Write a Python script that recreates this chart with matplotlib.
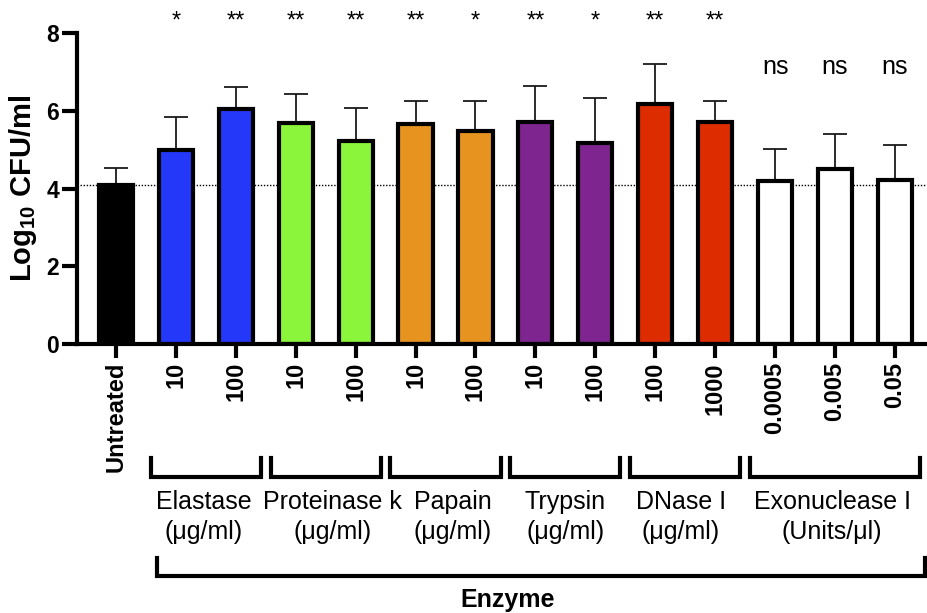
import numpy as np
import matplotlib
matplotlib.use('Agg')
import matplotlib.pyplot as plt

plt.rcParams['font.family'] = ['Liberation Sans', 'DejaVu Sans']
plt.rcParams['mathtext.fontset'] = 'custom'
plt.rcParams['mathtext.rm'] = 'Liberation Sans'
plt.rcParams['mathtext.bf'] = 'Liberation Sans:bold'

# data
tick_labels = ['Untreated', '10', '100', '10', '100', '10', '100', '10', '100',
               '100', '1000', '0.0005', '0.005', '0.05']
means = [4.08, 5.00, 6.05, 5.69, 5.21, 5.65, 5.48, 5.72, 5.17, 6.17, 5.71, 4.19, 4.51, 4.22]
upper = [4.52, 5.85, 6.61, 6.43, 6.07, 6.25, 6.24, 6.65, 6.32, 7.21, 6.25, 5.02, 5.41, 5.12]
colors = ['#000000', '#2438fa', '#2438fa', '#8af53a', '#8af53a', '#e69320', '#e69320',
          '#7f258f', '#7f258f', '#dd2c00', '#dd2c00', '#ffffff', '#ffffff', '#ffffff']
signif = ['', '*', '**', '**', '**', '**', '*', '**', '*', '**', '**', 'ns', 'ns', 'ns']

groups = ['Elastase\n(\u03bcg/ml)', 'Proteinase k\n(\u03bcg/ml)', 'Papain\n(\u03bcg/ml)',
          'Trypsin\n(\u03bcg/ml)', 'DNase I\n(\u03bcg/ml)', 'Exonuclease I\n(Units/\u03bcl)']
group_first = [1, 3, 5, 7, 9, 11]
group_last = [2, 4, 6, 8, 10, 13]
label_shift = [-0.03, 0.12, 0.12, 0.0, -0.07, -0.05]

x = np.arange(len(means))
err = np.array(upper) - np.array(means)

fig = plt.figure(figsize=(9.27, 6.13), dpi=100)
ax = fig.add_axes([0.0831, 0.4388, 0.9159, 0.5073])

ax.axhline(means[0], color='black', lw=1, ls=(0, (1, 1.2)), zorder=0)
ax.bar(x, means, width=0.57, color=colors, edgecolor='black', linewidth=3, zorder=2)
ax.errorbar(x, means, yerr=[np.zeros(len(err)), err], fmt='none', ecolor='#1a1a1a',
            elinewidth=1.3, capsize=8.5, capthick=1.3, zorder=1)

ax.set_xlim(-0.65, 13.52)
ax.set_ylim(0, 8)
ax.set_yticks([0, 2, 4, 6, 8])
ax.set_xticks(x)
ax.set_xticklabels(tick_labels, rotation=90, fontsize=17, fontweight='bold')
for lab in ax.get_yticklabels():
    lab.set_fontsize(16.5)
    lab.set_fontweight('bold')
ax.tick_params(axis='y', length=11, width=3, pad=2)
ax.tick_params(axis='x', length=10, width=3, pad=3)
for s in ['top', 'right']:
    ax.spines[s].set_visible(False)
for s in ['left', 'bottom']:
    ax.spines[s].set_linewidth(3)
ax.set_ylabel(r'$\mathbf{Log_{10}}$ CFU/ml', fontsize=21, fontweight='bold', labelpad=5)

# significance marks
for xi, s in zip(x, signif):
    if s == 'ns':
        ax.text(xi, 7.13, s, ha='center', va='center', fontsize=18)
    elif s:
        ax.text(xi, 8.30, s, ha='center', va='center', fontsize=17)

# group brackets
for name, a, b, dx in zip(groups, group_first, group_last, label_shift):
    x0, x1 = a - 0.42, b + 0.42
    ax.plot([x0, x0, x1, x1], [-2.93, -3.41, -3.41, -2.93], color='black', lw=3,
            clip_on=False, solid_joinstyle='miter')
    ax.text((a + b) / 2 + dx, -4.45, name, ha='center', va='center', fontsize=18,
            linespacing=1.35)

ax.plot([0.68, 0.68, 13.5, 13.5], [-5.50, -5.96, -5.96, -5.50], color='black', lw=3,
        clip_on=False, solid_joinstyle='miter')
ax.text(6.53, -6.58, 'Enzyme', ha='center', va='center', fontsize=18, fontweight='bold')

fig.savefig('out.png', dpi=100)
